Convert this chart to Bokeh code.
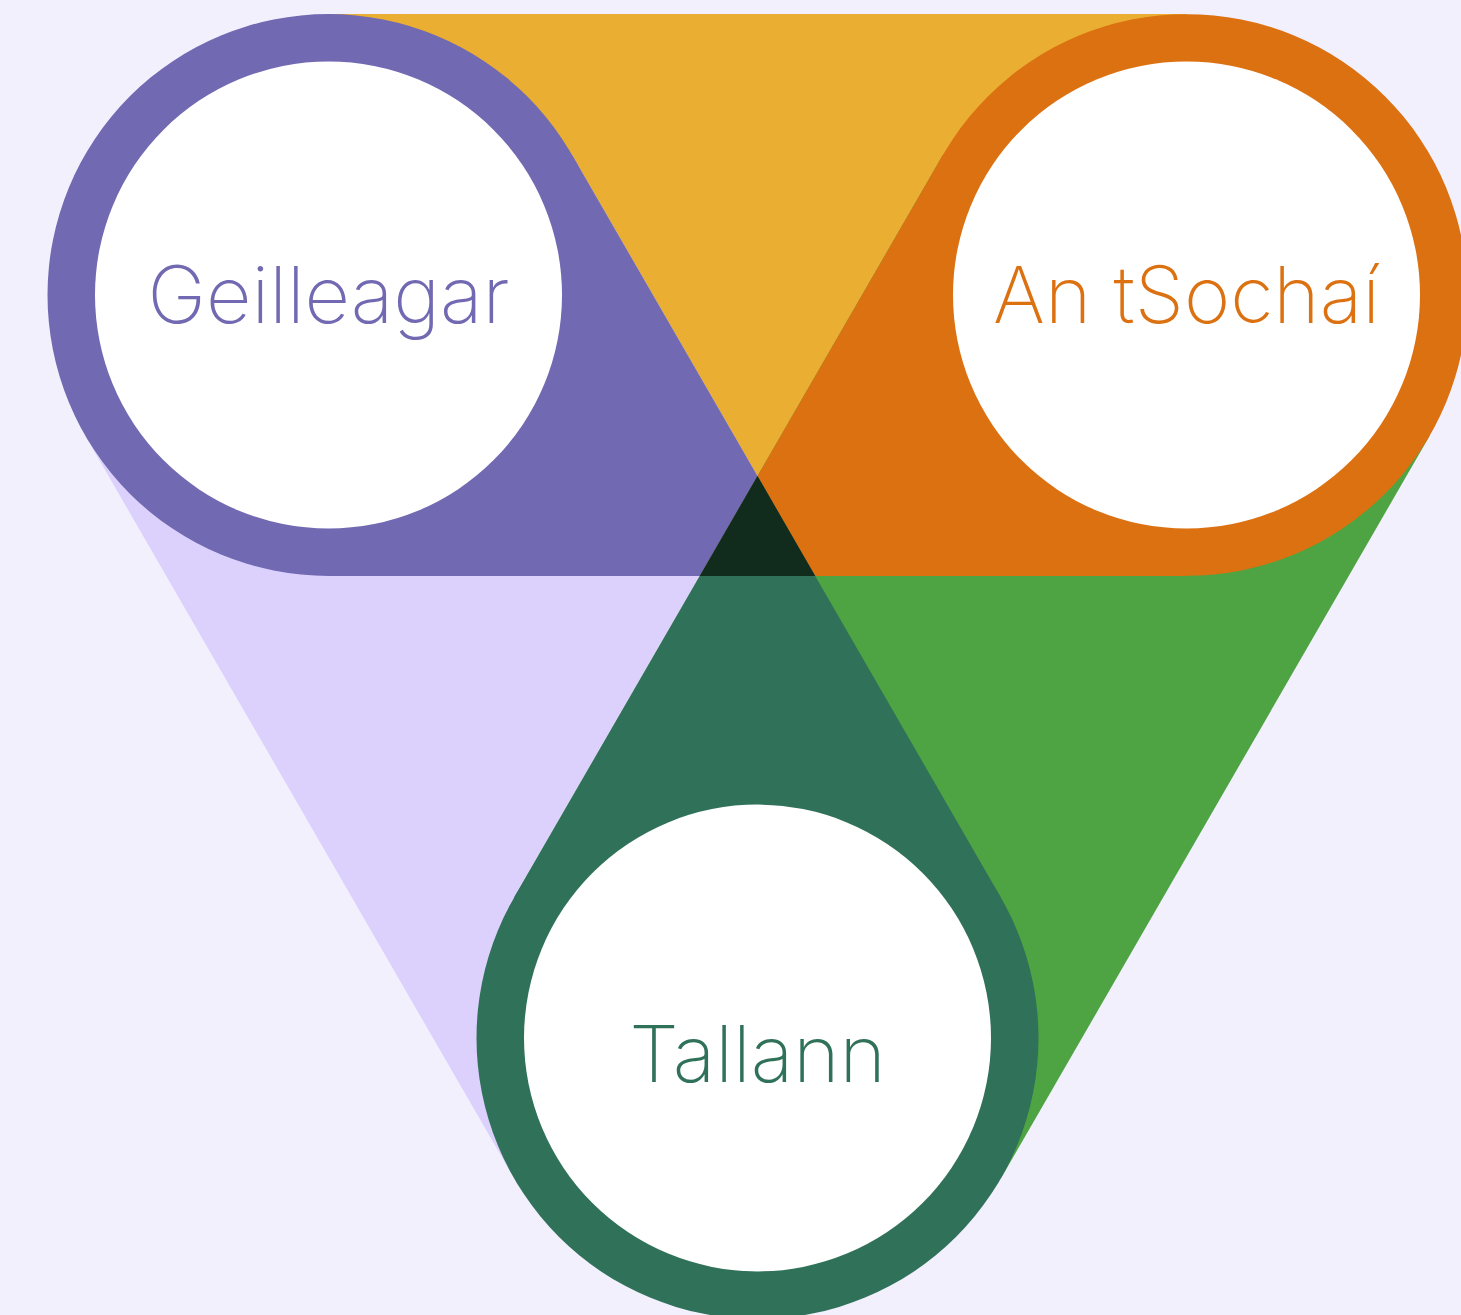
import numpy as np
from bokeh.plotting import figure
from bokeh.models import Range1d, ColumnDataSource
from bokeh.core.properties import value
from bokeh.embed import file_html
from bokeh.resources import INLINE

# ---- data ----
labels = ["Geilleagar", "An tSochaí", "Tallann"]
ring_colors = ["#7169B1", "#DC7111", "#307159"]
links = [(0, 1), (0, 2), (1, 2)]
link_colors = ["#EAAF32", "#DCD0FD", "#4EA442"]
center_color = "#112B1C"
bg = "#F3F0FE"

# ---- layout (page pixel coordinates) ----
node_x = [328.0, 1186.0, 757.0]
node_y = [294.5, 294.5, 1037.5]
label_dy = [-1.0, -1.0, 14.5]
R_OUT = 281.0
R_IN = 233.5

W, H = 1461, 1315
p = figure(width=W, height=H, output_backend="svg", toolbar_location=None,
           x_range=Range1d(0, W), y_range=Range1d(H, 0),
           min_border=0, background_fill_color=bg, border_fill_color=bg,
           outline_line_color=None)
p.axis.visible = False
p.grid.visible = False


def band(a, b, w):
    ax, ay = node_x[a], node_y[a]
    bx, by = node_x[b], node_y[b]
    d = np.array([bx - ax, by - ay])
    d = d / np.linalg.norm(d)
    n = np.array([-d[1], d[0]]) * w
    return [(ax + n[0], ay + n[1]), (bx + n[0], by + n[1]),
            (bx - n[0], by - n[1]), (ax - n[0], ay - n[1])]


def clip(subject, clipper):
    cx = sum(q[0] for q in clipper) / len(clipper)
    cy = sum(q[1] for q in clipper) / len(clipper)
    out = list(subject)
    m = len(clipper)
    for i in range(m):
        p1 = clipper[i]
        p2 = clipper[(i + 1) % m]

        def side(q):
            return (p2[0] - p1[0]) * (q[1] - p1[1]) - (p2[1] - p1[1]) * (q[0] - p1[0])
        ref = side((cx, cy))

        def inside(q):
            return side(q) * ref >= 0

        def inter(s, e):
            s1, s2 = side(s), side(e)
            t = s1 / (s1 - s2)
            return (s[0] + t * (e[0] - s[0]), s[1] + t * (e[1] - s[1]))
        inp = out
        out = []
        if not inp:
            break
        prev = inp[-1]
        for cur in inp:
            if inside(cur):
                if not inside(prev):
                    out.append(inter(prev, cur))
                out.append(cur)
            elif inside(prev):
                out.append(inter(prev, cur))
            prev = cur
    return out


bands = [band(a, b, R_OUT) for a, b in links]

xs, ys, cols = [], [], []
# single bands
for poly, c in zip(bands, link_colors):
    xs.append([q[0] for q in poly]); ys.append([q[1] for q in poly]); cols.append(c)
# pairwise overlaps -> colour of the shared node
for i in range(3):
    for j in range(i + 1, 3):
        shared = (set(links[i]) & set(links[j])).pop()
        poly = clip(bands[i], bands[j])
        xs.append([q[0] for q in poly]); ys.append([q[1] for q in poly]); cols.append(ring_colors[shared])
# triple overlap
poly = clip(clip(bands[0], bands[1]), bands[2])
xs.append([q[0] for q in poly]); ys.append([q[1] for q in poly]); cols.append(center_color)

p.patches(xs=xs, ys=ys, fill_color=cols, line_color=None)

nodes = ColumnDataSource(dict(x=node_x, y=node_y, color=ring_colors, label=labels,
                              ly=[y + d for y, d in zip(node_y, label_dy)]))
p.circle(x="x", y="y", radius=R_OUT, fill_color="color", line_color=None, source=nodes)
p.circle(x="x", y="y", radius=R_IN, fill_color="white", line_color=None, source=nodes)
p.text(x="x", y="ly", text="label", text_color="color", text_align="center",
       text_baseline="alphabetic", text_font=value("Inter ExtraLight"),
       text_font_size="79px", source=nodes)

html = file_html(p, INLINE)
html = html.replace("</head>", "<style>html,body{margin:0;padding:0;background:%s;}</style></head>" % bg, 1)
open("out.html", "w").write(html)
